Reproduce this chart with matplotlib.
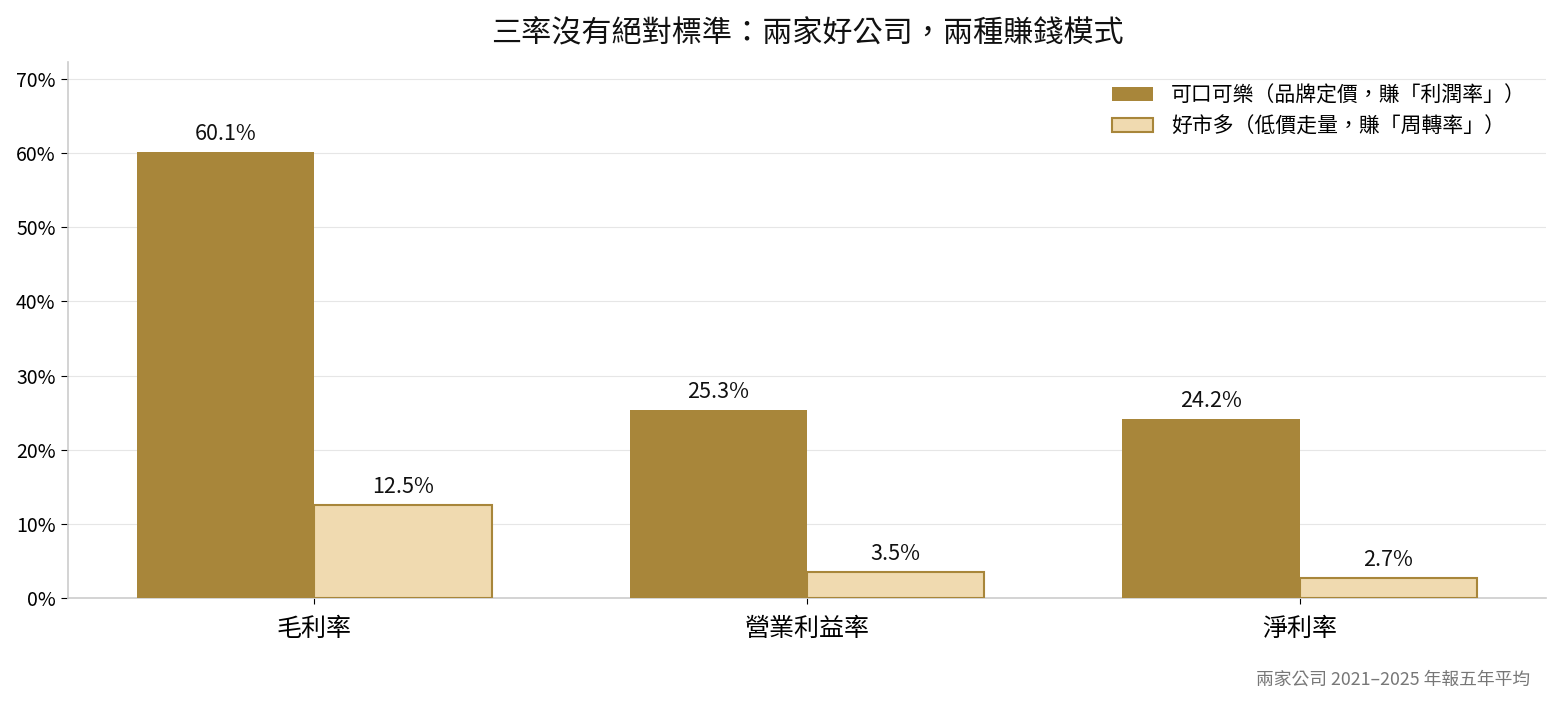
import numpy as np
import matplotlib
matplotlib.use("Agg")
import matplotlib.pyplot as plt

plt.rcParams['font.family'] = ['Noto Sans CJK TC', 'DejaVu Sans']

categories = ["毛利率", "營業利益率", "淨利率"]
coke = [60.1, 25.3, 24.2]
costco = [12.5, 3.5, 2.7]
yticks = [0, 10, 20, 30, 40, 50, 60, 70]

dark = "#A8863A"
light = "#F0DAB0"

fig = plt.figure(figsize=(15.6, 7.01), dpi=100)
ax = fig.add_axes([0.0436, 0.147, 0.9474, 0.7646])

x = np.arange(len(categories))
w = 0.36
b1 = ax.bar(x - w / 2, coke, w, color=dark, label="可口可樂（品牌定價，賺「利潤率」）", zorder=3)
b2 = ax.bar(x + w / 2, costco, w, color=light, edgecolor=dark, linewidth=1.5,
            label="好市多（低價走量，賺「周轉率」）", zorder=3)

for bars in (b1, b2):
    for r in bars:
        ax.annotate(f"{r.get_height():.1f}%", (r.get_x() + r.get_width() / 2, r.get_height()),
                    xytext=(0, 5), textcoords="offset points", ha="center", va="bottom",
                    fontsize=15.5, color="#111111")

ax.set_xlim(-0.5, 2.5)
ax.set_ylim(0, 72.3)
ax.set_yticks(yticks)
ax.set_yticklabels([f"{v}%" for v in yticks], fontsize=14)
ax.set_xticks(x)
ax.set_xticklabels(categories, fontsize=18)
ax.tick_params(axis="x", length=4, pad=9)
ax.tick_params(axis="y", length=5, pad=4)
ax.grid(axis="y", color="#e6e6e6", linewidth=0.8, zorder=0)
ax.set_axisbelow(True)
for s in ("top", "right"):
    ax.spines[s].set_visible(False)
for s in ("left", "bottom"):
    ax.spines[s].set_color("#cccccc")
    ax.spines[s].set_linewidth(1.2)

ax.legend(loc="upper right", frameon=False, fontsize=15, handlelength=2.0,
          handleheight=0.7, handletextpad=0.85, labelspacing=0.45,
          borderaxespad=0.2, bbox_to_anchor=(0.995, 0.982))

ax.set_title("三率沒有絕對標準：兩家好公司，兩種賺錢模式", fontsize=21.7,
             color="#111111", pad=14)
fig.text(0.981, 0.03, "兩家公司 2021–2025 年報五年平均", ha="right", va="center",
         fontsize=12.8, color="#777777")

fig.savefig("out.png", dpi=100)
